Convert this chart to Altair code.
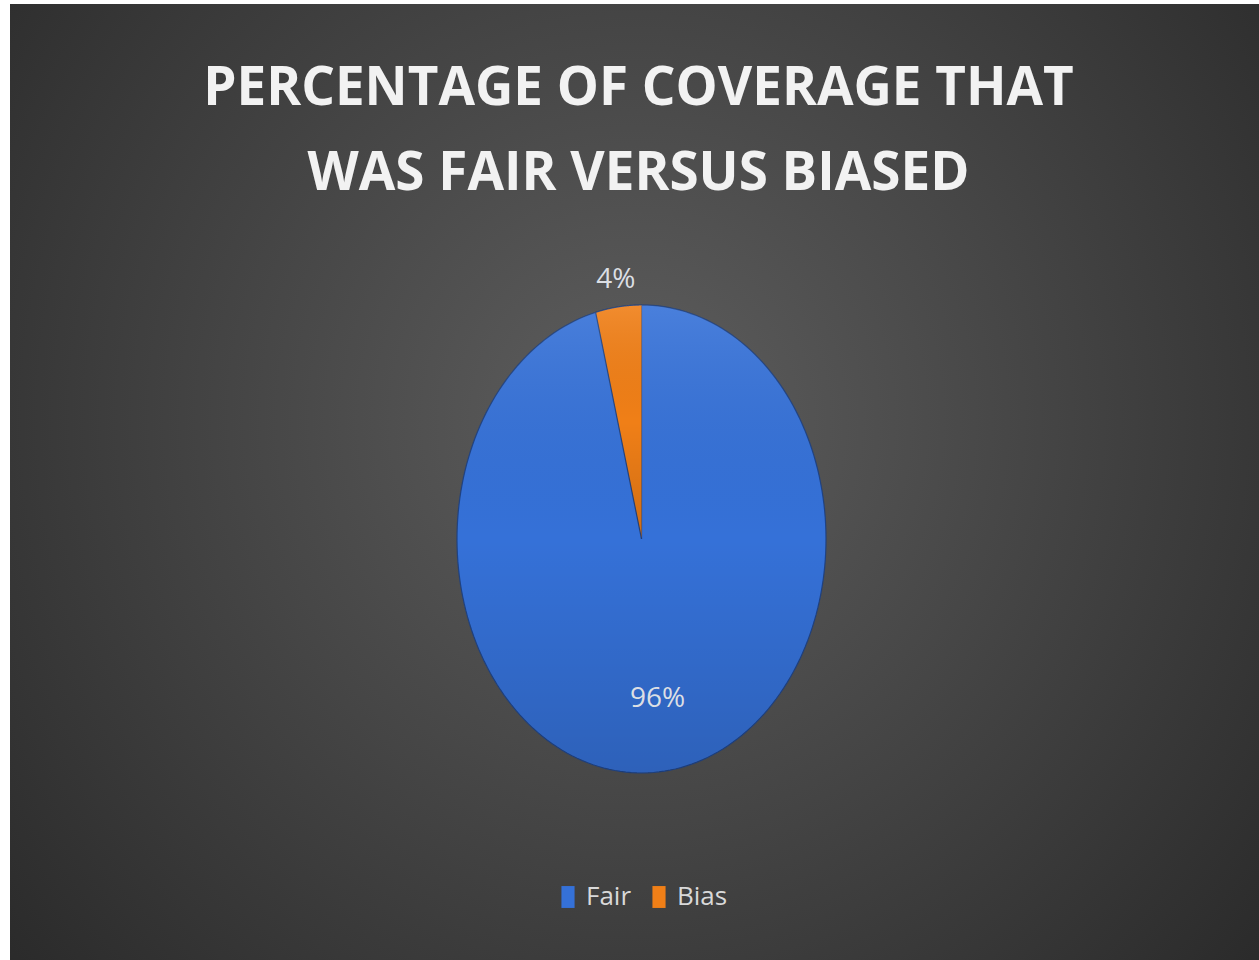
import altair as alt
import pandas as pd

# ---- data ----
categories = ["Fair", "Bias"]
values = [96, 4]
slice_order = [0, 1]
colors = ["#3571d8", "#f07f17"]
title_lines = ["PERCENTAGE OF COVERAGE THAT", "WAS FAIR VERSUS BIASED"]

df = pd.DataFrame({"category": categories, "value": values, "order": slice_order})

W, H = 1249, 956

# x / y scales: unit circle in data space, mapped onto an ellipse on screen
xs = alt.Scale(domain=[-1, 1], range=[447, 816])
ys = alt.Scale(domain=[-1, 1], range=[769, 301])


def pie_base():
    return (
        alt.Chart(df)
        .transform_joinaggregate(total="sum(value)")
        .transform_window(cum="sum(value)", sort=[alt.SortField("order")], frame=[None, 0])
        .transform_calculate(
            a0="2*PI*(datum.cum - datum.value)/datum.total",
            a1="2*PI*datum.cum/datum.total",
        )
    )


def wedge_points(base):
    return (
        base.transform_calculate(steps="sequence(0, 202)")
        .transform_flatten(["steps"])
        .transform_calculate(
            ang="datum.a0 + (datum.a1 - datum.a0) * (datum.steps - 1) / 200",
        )
        .transform_calculate(
            px="datum.steps == 0 ? 0 : sin(datum.ang)",
            py="datum.steps == 0 ? 0 : cos(datum.ang)",
        )
    )


bg = (
    alt.Chart(alt.Data(values=[{"k": 1}]))
    .mark_rect(
        color=alt.Gradient(
            gradient="radial",
            stops=[
                alt.GradientStop(color="#5e5e5e", offset=0),
                alt.GradientStop(color="#454545", offset=0.45),
                alt.GradientStop(color="#262626", offset=1),
            ],
            x1=0.5, y1=0.45, r1=0, x2=0.5, y2=0.45, r2=0.72,
        )
    )
    .encode(x=alt.value(0), x2=alt.value(W), y=alt.value(0), y2=alt.value(H))
)

wedges = (
    wedge_points(pie_base())
    .mark_line(filled=True, stroke="#1d3f80", strokeWidth=1.2, strokeOpacity=0.9, interpolate="linear")
    .encode(
        x=alt.X("px:Q", scale=xs, axis=None),
        y=alt.Y("py:Q", scale=ys, axis=None),
        order=alt.Order("steps:Q"),
        color=alt.Color(
            "category:N",
            scale=alt.Scale(domain=categories, range=colors),
            sort=categories,
            legend=alt.Legend(
                title=None,
                orient="none",
                legendX=545,
                legendY=880,
                direction="horizontal",
                symbolType="M-0.6,-1H0.6V1H-0.6Z",
                symbolSize=480,
                symbolStrokeWidth=0,
                symbolOpacity=1,
                labelFontSize=26,
                labelFont="Open Sans",
                labelColor="#d9d9d9",
                labelOffset=5,
                columnPadding=14,
                padding=0,
            ),
        ),
    )
)

shade = (
    wedge_points(pie_base())
    .mark_line(
        filled=True,
        strokeWidth=0,
        fill=alt.Gradient(
            gradient="linear",
            stops=[
                alt.GradientStop(color="rgba(255,255,255,0.10)", offset=0),
                alt.GradientStop(color="rgba(0,0,0,0.0)", offset=0.5),
                alt.GradientStop(color="rgba(0,0,0,0.14)", offset=1),
            ],
            x1=0, y1=0, x2=0, y2=1,
        ),
    )
    .encode(
        x=alt.X("px:Q", scale=xs, axis=None),
        y=alt.Y("py:Q", scale=ys, axis=None),
        order=alt.Order("steps:Q"),
        detail="category:N",
    )
)

labels = (
    pie_base()
    .transform_calculate(
        mid="(datum.a0 + datum.a1) / 2",
        r="datum.value / datum.total < 0.1 ? 1.115 : 0.69",
        label="format(datum.value / datum.total, '.0%')",
    )
    .transform_calculate(lx="datum.r * sin(datum.mid)", ly="datum.r * cos(datum.mid)")
    .mark_text(font="Open Sans", fontSize=28, color="#dcdfe4", baseline="middle", align="center")
    .encode(
        x=alt.X("lx:Q", scale=xs, axis=None),
        y=alt.Y("ly:Q", scale=ys, axis=None),
        text="label:N",
    )
)

chart = (
    alt.layer(bg, wedges, shade, labels)
    .properties(
        width=W,
        height=H,
        autosize=alt.AutoSizeParams(type="none"),
        padding={"left": 10, "top": 4, "right": 0, "bottom": 0},
        background="white",
        title=alt.TitleParams(
            text=title_lines,
            font="Open Sans",
            fontSize=53,
            fontWeight="bold",
            color="#f2f2f2",
            lineHeight=85,
            anchor="middle",
            baseline="top",
            offset=0,
            dx=4,
            dy=197,
        ),
    )
    .configure_view(stroke=None)
)

chart.save("out.html", embed_options={"renderer": "svg", "actions": False})
